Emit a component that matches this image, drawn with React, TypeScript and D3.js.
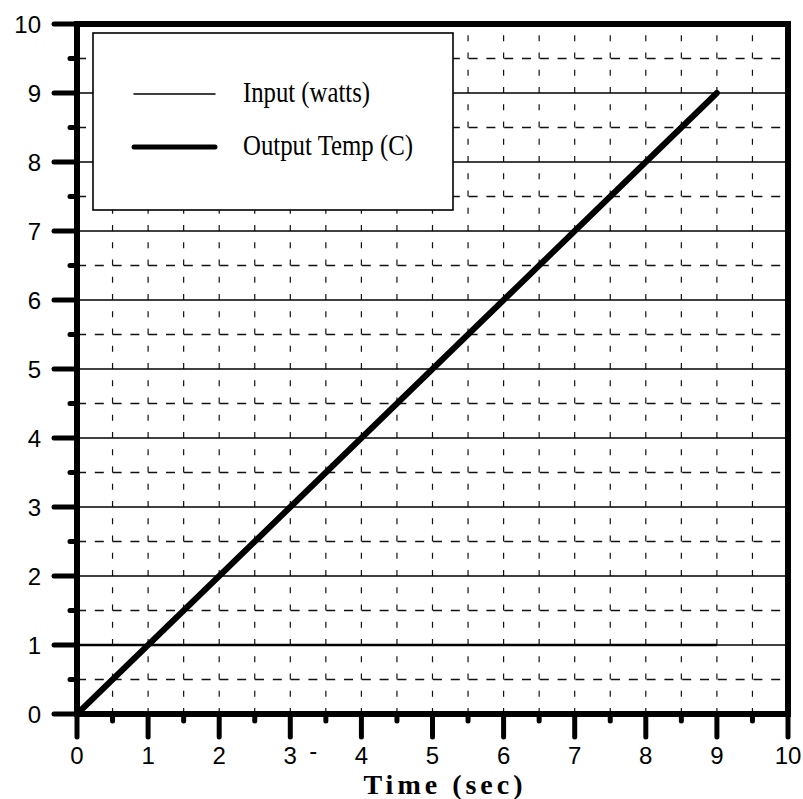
import React, { useEffect, useRef } from 'react';
import * as d3 from 'd3';

// values
const timeSec = [0, 1, 2, 3, 4, 5, 6, 7, 8, 9];
const inputWatts = [1, 1, 1, 1, 1, 1, 1, 1, 1, 1];
const outputTemp = [0, 1, 2, 3, 4, 5, 6, 7, 8, 9];

const majorTicks = [0, 1, 2, 3, 4, 5, 6, 7, 8, 9, 10];
const minorTicks = [0.5, 1.5, 2.5, 3.5, 4.5, 5.5, 6.5, 7.5, 8.5, 9.5];
const solidGridY = [1, 2, 3, 4, 5, 6, 7, 8, 9];
const dashedGridX = [0.5, 1, 1.5, 2, 2.5, 3, 3.5, 4, 4.5, 5, 5.5, 6, 6.5, 7, 7.5, 8, 8.5, 9, 9.5];

const seriesNames = ['Input (watts)', 'Output Temp (C)'];
const xTitle = 'Time (sec)';

const W = 803;
const H = 799;

const App: React.FC = () => {
  const svgRef = useRef<SVGSVGElement>(null);

  useEffect(() => {
    if (!svgRef.current) return;
    const svg = d3.select(svgRef.current);
    svg.selectAll('*').remove();

    const margin = { top: 24, right: 15, bottom: 85, left: 77 };
    const x = d3.scaleLinear().domain([0, 10]).range([margin.left, W - margin.right]);
    const y = d3.scaleLinear().domain([0, 10]).range([H - margin.bottom, margin.top]);

    const [x0, x1] = x.range();
    const [y0, y1] = y.range();

    const grid = svg.append('g');

    // vertical dashed grid
    grid.selectAll('line.vx')
      .data(dashedGridX)
      .join('line')
      .attr('x1', d => x(d)).attr('x2', d => x(d))
      .attr('y1', y0).attr('y2', y1)
      .attr('stroke', '#111')
      .attr('stroke-width', 1.2)
      .attr('stroke-dasharray', '6 11.25');

    // horizontal dashed grid at halves
    grid.selectAll('line.hd')
      .data(minorTicks)
      .join('line')
      .attr('x1', x0).attr('x2', x1)
      .attr('y1', d => y(d)).attr('y2', d => y(d))
      .attr('stroke', '#111')
      .attr('stroke-width', 1.4)
      .attr('stroke-dasharray', '9 8.8');

    // horizontal solid grid at integers
    grid.selectAll('line.hs')
      .data(solidGridY)
      .join('line')
      .attr('x1', x0).attr('x2', x1)
      .attr('y1', d => y(d)).attr('y2', d => y(d))
      .attr('stroke', '#000')
      .attr('stroke-width', 1.3);

    // series
    const seriesLine = d3.line<number>()
      .x((_, i) => x(timeSec[i]))
      .y(d => y(d));

    svg.append('path')
      .datum(inputWatts)
      .attr('fill', 'none')
      .attr('stroke', '#000')
      .attr('stroke-width', 2.4)
      .attr('d', seriesLine);

    svg.append('path')
      .datum(outputTemp)
      .attr('fill', 'none')
      .attr('stroke', '#000')
      .attr('stroke-width', 6)
      .attr('stroke-linecap', 'round')
      .attr('stroke-linejoin', 'round')
      .attr('d', seriesLine);

    // legend
    const lg = svg.append('g');
    lg.append('rect')
      .attr('x', 93).attr('y', 33)
      .attr('width', 360).attr('height', 177)
      .attr('fill', '#fff')
      .attr('stroke', '#000')
      .attr('stroke-width', 1.6);

    const legendRows = [
      { name: seriesNames[0], width: 1.5, ly: 94, tl: 127 },
      { name: seriesNames[1], width: 5, ly: 147, tl: 170 }
    ];
    legendRows.forEach(r => {
      lg.append('line')
        .attr('x1', 134).attr('x2', 215)
        .attr('y1', r.ly).attr('y2', r.ly)
        .attr('stroke', '#000')
        .attr('stroke-width', r.width)
        .attr('stroke-linecap', 'round');
      lg.append('text')
        .attr('x', 243).attr('y', r.ly + 8)
        .attr('font-family', '"Liberation Serif", "Times New Roman", serif')
        .attr('font-size', 29)
        .attr('textLength', r.tl)
        .attr('lengthAdjust', 'spacingAndGlyphs')
        .attr('fill', '#000')
        .text(r.name);
    });

    // frame
    svg.append('rect')
      .attr('x', x0).attr('y', y1)
      .attr('width', x1 - x0).attr('height', y0 - y1)
      .attr('fill', 'none')
      .attr('stroke', '#000')
      .attr('stroke-width', 6);

    const ticks = svg.append('g')
      .attr('stroke', '#000')
      .attr('stroke-linecap', 'round');

    // left axis ticks
    ticks.selectAll('line.ly')
      .data(majorTicks)
      .join('line')
      .attr('x1', x0 - 23).attr('x2', x0)
      .attr('y1', d => y(d)).attr('y2', d => y(d))
      .attr('stroke-width', 5);
    ticks.selectAll('line.lym')
      .data(minorTicks)
      .join('line')
      .attr('x1', x0 - 7).attr('x2', x0)
      .attr('y1', d => y(d)).attr('y2', d => y(d))
      .attr('stroke-width', 5);

    // bottom axis ticks
    ticks.selectAll('line.bx')
      .data(majorTicks)
      .join('line')
      .attr('x1', d => x(d)).attr('x2', d => x(d))
      .attr('y1', y0).attr('y2', y0 + 23)
      .attr('stroke-width', 5);
    ticks.selectAll('line.bxm')
      .data(minorTicks)
      .join('line')
      .attr('x1', d => x(d)).attr('x2', d => x(d))
      .attr('y1', y0).attr('y2', y0 + 7)
      .attr('stroke-width', 5);

    const sans = '"Liberation Sans", Arial, sans-serif';

    svg.append('g')
      .selectAll('text')
      .data(majorTicks)
      .join('text')
      .attr('x', x0 - 36)
      .attr('y', d => y(d))
      .attr('dy', '0.36em')
      .attr('text-anchor', 'end')
      .attr('font-family', sans)
      .attr('font-size', 24)
      .attr('fill', '#000')
      .text(d => String(d));

    svg.append('g')
      .selectAll('text')
      .data(majorTicks)
      .join('text')
      .attr('x', d => x(d))
      .attr('y', y0 + 50)
      .attr('text-anchor', 'middle')
      .attr('font-family', sans)
      .attr('font-size', 24)
      .attr('fill', '#000')
      .text(d => String(d));

    // stray dash next to the "3" label in the scan
    svg.append('text')
      .attr('x', x(3) + 19)
      .attr('y', y0 + 45)
      .attr('font-family', sans)
      .attr('font-size', 24)
      .attr('fill', '#000')
      .text('-');

    svg.append('text')
      .attr('x', 445)
      .attr('y', 794)
      .attr('text-anchor', 'middle')
      .attr('font-family', '"Liberation Serif", "Times New Roman", serif')
      .attr('font-weight', 'bold')
      .attr('font-size', 28)
      .attr('letter-spacing', 4)
      .attr('fill', '#000')
      .text(xTitle);
  }, []);

  return (
    <svg
      ref={svgRef}
      width={W}
      height={H}
      style={{ position: 'absolute', left: 0, top: 0, background: '#fff' }}
    />
  );
};

export default App;
